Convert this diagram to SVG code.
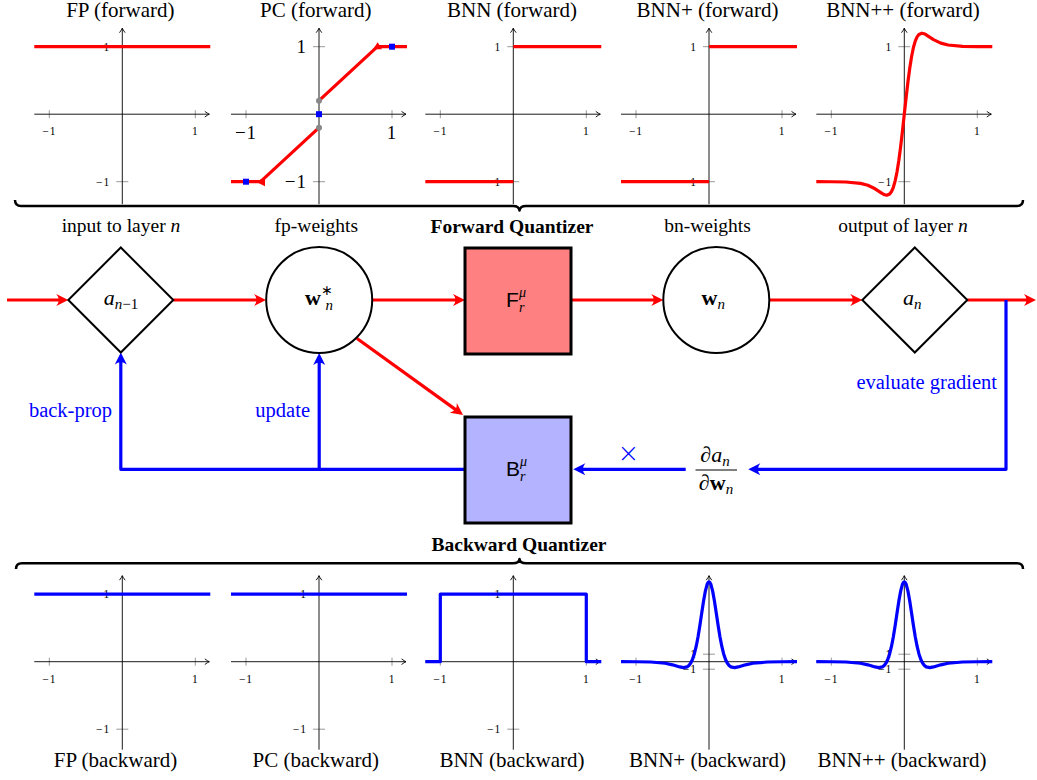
<svg xmlns="http://www.w3.org/2000/svg" width="1037" height="780" viewBox="0 0 1037 780">
<style>
text{font-family:"Liberation Serif","Times New Roman",serif;fill:#000}
.ax{stroke:#000;stroke-width:0.9;fill:none}
.tk{stroke:#999;stroke-width:1}
.lbl{font-size:11.5px;letter-spacing:1px}
.big{font-size:19px;letter-spacing:1px}
.ttl{font-size:21px}
.mid{font-size:19.5px}
.bl{font-size:20.5px;fill:#00f}
.cross{font-family:"DejaVu Sans",sans-serif;font-size:26px;font-weight:200;fill:#00f}
.bold{font-weight:bold;font-size:19.5px}
.rc{stroke:#f00;stroke-width:3.2;fill:none;stroke-linejoin:round}
.bc{stroke:#00f;stroke-width:3.2;fill:none;stroke-linejoin:round}
.node{stroke:#000;stroke-width:2;fill:#fff}
.box{stroke:#000;stroke-width:3}
.it{font-style:italic}
.sans{font-family:"Liberation Sans",Arial,sans-serif}
.brace{stroke:#000;stroke-width:2.5;fill:none;stroke-linejoin:round}
</style>
<defs>
<marker id="axa" markerUnits="userSpaceOnUse" markerWidth="10" markerHeight="10" viewBox="-6 -5 8 10" refX="0" refY="0" orient="auto">
<path d="M-4.5,-2.8 Q-1.5,-0.6 0,0 Q-1.5,0.6 -4.5,2.8" fill="none" stroke="#000" stroke-width="0.9"/>
</marker>
<marker id="ar" markerUnits="userSpaceOnUse" markerWidth="16" markerHeight="16" viewBox="-14 -8 16 16" refX="-4" refY="0" orient="auto">
<path d="M0,0 L-12,-6 Q-7,0 -12,6 Z" fill="#f00"/>
</marker>
<marker id="ab" markerUnits="userSpaceOnUse" markerWidth="16" markerHeight="16" viewBox="-14 -8 16 16" refX="-4" refY="0" orient="auto">
<path d="M0,0 L-12,-6 Q-7,0 -12,6 Z" fill="#00f"/>
</marker>
</defs>

<!-- forward plots -->
<g id="fp-forward" transform="translate(122.3,114.2)">
<line class="tk" x1="-73" y1="-4" x2="-73" y2="4"/><line class="tk" x1="73" y1="-4" x2="73" y2="4"/>
<line class="tk" x1="-6" y1="-67.5" x2="6" y2="-67.5"/><line class="tk" x1="-6" y1="67.5" x2="6" y2="67.5"/>
<line class="ax" x1="-88" y1="0" x2="87" y2="0" marker-end="url(#axa)"/>
<line class="ax" x1="0" y1="90" x2="0" y2="-86" marker-end="url(#axa)"/>
<text class="lbl" x="-73" y="21" text-anchor="middle">−1</text><text class="lbl" x="73" y="21" text-anchor="middle">1</text>
<text class="lbl" x="-12" y="-63.5" text-anchor="end">1</text><text class="lbl" x="-12" y="71.5" text-anchor="end">−1</text>
<path class="rc" d="M-88,-67.5 H88"/>
</g>
<g id="pc-forward" transform="translate(319,114.2)">
<line class="tk" x1="-73" y1="-4" x2="-73" y2="4"/><line class="tk" x1="73" y1="-4" x2="73" y2="4"/>
<line class="tk" x1="-6" y1="-67.5" x2="6" y2="-67.5"/><line class="tk" x1="-6" y1="67.5" x2="6" y2="67.5"/>
<line class="ax" x1="-88" y1="0" x2="87" y2="0" marker-end="url(#axa)"/>
<line class="ax" x1="0" y1="90" x2="0" y2="-86" marker-end="url(#axa)"/>
<text class="big" x="-73" y="25" text-anchor="middle">−1</text><text class="big" x="73" y="25" text-anchor="middle">1</text>
<text class="big" x="-12" y="-61" text-anchor="end">1</text><text class="big" x="-12" y="74" text-anchor="end">−1</text>
<path class="rc" d="M-88,67.5 H-58.4 L0,13.5"/>
<path class="rc" d="M0,-13.5 L58.4,-67.5 H88"/>
<circle cx="0" cy="13.5" r="3" fill="#888"/><circle cx="0" cy="-13.5" r="3" fill="#888"/>
<polygon points="58.7,-72 54,-65 63,-65" fill="#f00"/>
<polygon points="-63,67.5 -54,63 -54,72" fill="#f00"/>
<rect x="-76" y="64.5" width="6" height="6" fill="#00f"/>
<rect x="-3" y="-3" width="6" height="6" fill="#00f"/>
<rect x="70" y="-70.5" width="6" height="6" fill="#00f"/>
</g>
<g id="bnn-forward" transform="translate(513.3,114.2)">
<line class="tk" x1="-73" y1="-4" x2="-73" y2="4"/><line class="tk" x1="73" y1="-4" x2="73" y2="4"/>
<line class="tk" x1="-6" y1="-67.5" x2="6" y2="-67.5"/><line class="tk" x1="-6" y1="67.5" x2="6" y2="67.5"/>
<line class="ax" x1="-88" y1="0" x2="87" y2="0" marker-end="url(#axa)"/>
<line class="ax" x1="0" y1="90" x2="0" y2="-86" marker-end="url(#axa)"/>
<text class="lbl" x="-73" y="21" text-anchor="middle">−1</text><text class="lbl" x="73" y="21" text-anchor="middle">1</text>
<text class="lbl" x="-12" y="-63.5" text-anchor="end">1</text><text class="lbl" x="-12" y="71.5" text-anchor="end">−1</text>
<path class="rc" d="M-88,67.5 H0"/><path class="rc" d="M0,-67.5 H88"/>
</g>
<g id="bnnp-forward" transform="translate(709,114.2)">
<line class="tk" x1="-73" y1="-4" x2="-73" y2="4"/><line class="tk" x1="73" y1="-4" x2="73" y2="4"/>
<line class="tk" x1="-6" y1="-67.5" x2="6" y2="-67.5"/><line class="tk" x1="-6" y1="67.5" x2="6" y2="67.5"/>
<line class="ax" x1="-88" y1="0" x2="87" y2="0" marker-end="url(#axa)"/>
<line class="ax" x1="0" y1="90" x2="0" y2="-86" marker-end="url(#axa)"/>
<text class="lbl" x="-73" y="21" text-anchor="middle">−1</text><text class="lbl" x="73" y="21" text-anchor="middle">1</text>
<text class="lbl" x="-12" y="-63.5" text-anchor="end">1</text><text class="lbl" x="-12" y="71.5" text-anchor="end">−1</text>
<path class="rc" d="M-88,67.5 H0"/><path class="rc" d="M0,-67.5 H88"/>
</g>
<g id="bnnpp-forward" transform="translate(904.3,114.2)">
<line class="tk" x1="-73" y1="-4" x2="-73" y2="4"/><line class="tk" x1="73" y1="-4" x2="73" y2="4"/>
<line class="tk" x1="-6" y1="-67.5" x2="6" y2="-67.5"/><line class="tk" x1="-6" y1="67.5" x2="6" y2="67.5"/>
<line class="ax" x1="-88" y1="0" x2="87" y2="0" marker-end="url(#axa)"/>
<line class="ax" x1="0" y1="90" x2="0" y2="-86" marker-end="url(#axa)"/>
<text class="lbl" x="-73" y="21" text-anchor="middle">−1</text><text class="lbl" x="73" y="21" text-anchor="middle">1</text>
<text class="lbl" x="-12" y="-63.5" text-anchor="end">1</text><text class="lbl" x="-12" y="71.5" text-anchor="end">−1</text>
<path class="rc" d="M-88,67.5 L-73,67.56 L-58.4,67.82 L-43.8,69.17 L-36.5,71.08 L-29.2,74.61 L-21.9,79.4 L-19.71,80.51 L-17.52,80.99 L-14.6,79.76 L-12.78,77.31 L-10.95,73.08 L-9.13,66.65 L-7.3,57.75 L-5.48,46.25 L-3.65,32.4 L-1.83,16.71 L0,0 L1.83,-16.71 L3.65,-32.4 L5.48,-46.25 L7.3,-57.75 L9.13,-66.65 L10.95,-73.08 L12.78,-77.31 L14.6,-79.76 L17.52,-80.99 L19.71,-80.51 L21.9,-79.4 L29.2,-74.61 L36.5,-71.08 L43.8,-69.17 L58.4,-67.82 L73,-67.56 L88,-67.5"/>
</g>

<!-- backward plots -->
<g id="fp-backward" transform="translate(122.3,661.7)">
<line class="tk" x1="-73" y1="-4" x2="-73" y2="4"/><line class="tk" x1="73" y1="-4" x2="73" y2="4"/>
<line class="tk" x1="-6" y1="-67.5" x2="6" y2="-67.5"/><line class="tk" x1="-6" y1="67.5" x2="6" y2="67.5"/>
<line class="ax" x1="-88" y1="0" x2="87" y2="0" marker-end="url(#axa)"/>
<line class="ax" x1="0" y1="88" x2="0" y2="-86" marker-end="url(#axa)"/>
<text class="lbl" x="-73" y="21" text-anchor="middle">−1</text><text class="lbl" x="73" y="21" text-anchor="middle">1</text>
<text class="lbl" x="-12" y="-63.5" text-anchor="end">1</text><text class="lbl" x="-12" y="71.5" text-anchor="end">−1</text>
<path class="bc" d="M-88,-67.5 H88"/>
</g>
<g id="pc-backward" transform="translate(319,661.7)">
<line class="tk" x1="-73" y1="-4" x2="-73" y2="4"/><line class="tk" x1="73" y1="-4" x2="73" y2="4"/>
<line class="tk" x1="-6" y1="-67.5" x2="6" y2="-67.5"/><line class="tk" x1="-6" y1="67.5" x2="6" y2="67.5"/>
<line class="ax" x1="-88" y1="0" x2="87" y2="0" marker-end="url(#axa)"/>
<line class="ax" x1="0" y1="88" x2="0" y2="-86" marker-end="url(#axa)"/>
<text class="lbl" x="-73" y="21" text-anchor="middle">−1</text><text class="lbl" x="73" y="21" text-anchor="middle">1</text>
<text class="lbl" x="-12" y="-63.5" text-anchor="end">1</text><text class="lbl" x="-12" y="71.5" text-anchor="end">−1</text>
<path class="bc" d="M-88,-67.5 H88"/>
</g>
<g id="bnn-backward" transform="translate(513.3,661.7)">
<line class="tk" x1="-73" y1="-4" x2="-73" y2="4"/><line class="tk" x1="73" y1="-4" x2="73" y2="4"/>
<line class="tk" x1="-6" y1="-67.5" x2="6" y2="-67.5"/><line class="tk" x1="-6" y1="67.5" x2="6" y2="67.5"/>
<line class="ax" x1="-88" y1="0" x2="87" y2="0" marker-end="url(#axa)"/>
<line class="ax" x1="0" y1="88" x2="0" y2="-86" marker-end="url(#axa)"/>
<text class="lbl" x="-73" y="21" text-anchor="middle">−1</text><text class="lbl" x="73" y="21" text-anchor="middle">1</text>
<text class="lbl" x="-12" y="-63.5" text-anchor="end">1</text><text class="lbl" x="-12" y="71.5" text-anchor="end">−1</text>
<path class="bc" d="M-88,0 H-73 V-67.5 H73 V0 H88"/>
</g>
<g id="bnnp-backward" transform="translate(709,661.7)">
<line class="tk" x1="-73" y1="-4" x2="-73" y2="4"/><line class="tk" x1="73" y1="-4" x2="73" y2="4"/>
<line class="tk" x1="-6" y1="-7.5" x2="6" y2="-7.5"/><line class="tk" x1="-6" y1="7.5" x2="6" y2="7.5"/>
<line class="ax" x1="-88" y1="0" x2="87" y2="0" marker-end="url(#axa)"/>
<line class="ax" x1="0" y1="88" x2="0" y2="-86" marker-end="url(#axa)"/>
<text class="lbl" x="-73" y="21" text-anchor="middle">−1</text><text class="lbl" x="73" y="21" text-anchor="middle">1</text>
<text class="lbl" x="-12" y="-4" text-anchor="end">1</text><text class="lbl" x="-12" y="11" text-anchor="end">−1</text>
<path class="bc" d="M-88,0 L-73,0.07 L-58.4,0.32 L-43.8,1.57 L-36.5,3.12 L-29.2,5.25 L-25.55,5.9 L-21.9,5.17 L-20.08,3.79 L-18.25,1.35 L-16.43,-2.46 L-14.6,-8 L-12.78,-15.5 L-10.95,-25 L-9.13,-36.2 L-7.3,-48.4 L-5.48,-60.4 L-3.65,-70.6 L-1.83,-77.5 Q0,-82 1.83,-77.5 L3.65,-70.6 L5.48,-60.4 L7.3,-48.4 L9.13,-36.2 L10.95,-25 L12.78,-15.5 L14.6,-8 L16.43,-2.46 L18.25,1.35 L20.08,3.79 L21.9,5.17 L25.55,5.9 L29.2,5.25 L36.5,3.12 L43.8,1.57 L58.4,0.32 L73,0.07 L88,0"/>
</g>
<g id="bnnpp-backward" transform="translate(904.3,661.7)">
<line class="tk" x1="-73" y1="-4" x2="-73" y2="4"/><line class="tk" x1="73" y1="-4" x2="73" y2="4"/>
<line class="tk" x1="-6" y1="-7.5" x2="6" y2="-7.5"/><line class="tk" x1="-6" y1="7.5" x2="6" y2="7.5"/>
<line class="ax" x1="-88" y1="0" x2="87" y2="0" marker-end="url(#axa)"/>
<line class="ax" x1="0" y1="88" x2="0" y2="-86" marker-end="url(#axa)"/>
<text class="lbl" x="-73" y="21" text-anchor="middle">−1</text><text class="lbl" x="73" y="21" text-anchor="middle">1</text>
<text class="lbl" x="-12" y="-4" text-anchor="end">1</text><text class="lbl" x="-12" y="11" text-anchor="end">−1</text>
<path class="bc" d="M-88,0 L-73,0.07 L-58.4,0.32 L-43.8,1.57 L-36.5,3.12 L-29.2,5.25 L-25.55,5.9 L-21.9,5.17 L-20.08,3.79 L-18.25,1.35 L-16.43,-2.46 L-14.6,-8 L-12.78,-15.5 L-10.95,-25 L-9.13,-36.2 L-7.3,-48.4 L-5.48,-60.4 L-3.65,-70.6 L-1.83,-77.5 Q0,-82 1.83,-77.5 L3.65,-70.6 L5.48,-60.4 L7.3,-48.4 L9.13,-36.2 L10.95,-25 L12.78,-15.5 L14.6,-8 L16.43,-2.46 L18.25,1.35 L20.08,3.79 L21.9,5.17 L25.55,5.9 L29.2,5.25 L36.5,3.12 L43.8,1.57 L58.4,0.32 L73,0.07 L88,0"/>
</g>

<!-- plot titles -->
<g id="titles">
<text class="ttl" x="120.3" y="17" text-anchor="middle">FP (forward)</text>
<text class="ttl" x="315.8" y="17" text-anchor="middle">PC (forward)</text>
<text class="ttl" x="512" y="17" text-anchor="middle">BNN (forward)</text>
<text class="ttl" x="707.5" y="17" text-anchor="middle">BNN+ (forward)</text>
<text class="ttl" x="903" y="17" text-anchor="middle">BNN++ (forward)</text>
<text class="ttl" x="115.5" y="767" text-anchor="middle">FP (backward)</text>
<text class="ttl" x="315.8" y="767" text-anchor="middle">PC (backward)</text>
<text class="ttl" x="512" y="767" text-anchor="middle">BNN (backward)</text>
<text class="ttl" x="707.5" y="767" text-anchor="middle">BNN+ (backward)</text>
<text class="ttl" x="902" y="767" text-anchor="middle">BNN++ (backward)</text>
</g>

<!-- braces -->
<g id="braces">
<path class="brace" d="M15,200 Q15,206 21,206 L513,206 Q519,206 519.5,210.5 Q520,206 526,206 L1017,206 Q1023,206 1023,200"/>
<text class="bold" x="512" y="233" text-anchor="middle">Forward Quantizer</text>
<path class="brace" d="M16,569 Q16,563.3 22,563.3 L513,563.3 Q519,563.3 519.5,559 Q520,563.3 526,563.3 L1017,563.3 Q1023,563.3 1023,569"/>
<text class="bold" x="519" y="551" text-anchor="middle">Backward Quantizer</text>
</g>

<!-- connectors -->
<g id="connectors">
<line class="rc" x1="7" y1="300" x2="64.3" y2="300" marker-end="url(#ar)"/>
<line class="rc" x1="173.3" y1="300" x2="262" y2="300" marker-end="url(#ar)"/>
<line class="rc" x1="372.2" y1="300" x2="461" y2="300" marker-end="url(#ar)"/>
<line class="rc" x1="571" y1="300" x2="659.3" y2="300" marker-end="url(#ar)"/>
<line class="rc" x1="769.3" y1="300" x2="858.3" y2="300" marker-end="url(#ar)"/>
<line class="rc" x1="967.3" y1="300" x2="1032" y2="300" marker-end="url(#ar)"/>
<line class="rc" x1="357" y1="338.5" x2="459.8" y2="412.6" marker-end="url(#ar)"/>
<path class="bc" d="M1006,300 V469.3 H752.3" marker-end="url(#ab)"/>
<path class="bc" d="M685.7,469.3 H577.3" marker-end="url(#ab)"/>
<path class="bc" d="M464,469.3 H120.8 V356.5" marker-end="url(#ab)"/>
<path class="bc" d="M319.2,469.3 V357" marker-end="url(#ab)"/>
<text class="bl" x="997" y="389" text-anchor="end">evaluate gradient</text>
<text class="bl" x="112" y="417" text-anchor="end">back-prop</text>
<text class="bl" x="310" y="417" text-anchor="end">update</text>
<text class="cross" x="628.3" y="462" text-anchor="middle">×</text>
<g id="fraction">
<text x="715" y="462" font-size="22" text-anchor="middle">∂<tspan class="it">a</tspan><tspan class="it" font-size="15" dy="4">n</tspan></text>
<line x1="695.5" y1="470" x2="737" y2="470" stroke="#000" stroke-width="1"/>
<text x="716" y="490" font-size="22" text-anchor="middle">∂<tspan font-weight="bold">w</tspan><tspan class="it" font-size="15" dy="4">n</tspan></text>
</g>
</g>

<!-- nodes -->
<g id="node-input">
<text class="mid" x="121" y="232" text-anchor="middle">input to layer <tspan class="it">n</tspan></text>
<polygon class="node" points="120.8,247.5 173.3,300 120.8,352.5 68.3,300"/>
<text x="121" y="305" font-size="22" text-anchor="middle"><tspan class="it">a</tspan><tspan class="it" font-size="15" dy="4">n</tspan><tspan font-size="15">−1</tspan></text>
</g>
<g id="node-fpweights">
<text class="mid" x="316.3" y="232" text-anchor="middle">fp-weights</text>
<circle class="node" cx="319.2" cy="300" r="53"/>
<text x="305" y="305" font-size="22"><tspan font-weight="bold">w</tspan><tspan font-size="14" dy="-10">∗</tspan><tspan class="it" font-size="15" dx="-7.5" dy="15">n</tspan></text>
</g>
<g id="node-forward-quantizer">
<rect class="box" x="465" y="248" width="106" height="106" fill="#ff8080"/>
<text class="sans" x="506" y="307" font-size="21">F</text>
<text class="it" x="519" y="297" font-size="14">μ</text>
<text class="it" x="519" y="312" font-size="14">r</text>
</g>
<g id="node-bnweights">
<text class="mid" x="707.5" y="232" text-anchor="middle">bn-weights</text>
<circle class="node" cx="716.3" cy="300" r="53"/>
<text x="701.5" y="305" font-size="22"><tspan font-weight="bold">w</tspan><tspan class="it" font-size="15" dy="4">n</tspan></text>
</g>
<g id="node-output">
<text class="mid" x="903" y="232" text-anchor="middle">output of layer <tspan class="it">n</tspan></text>
<polygon class="node" points="914.8,247.5 967.3,300 914.8,352.5 862.3,300"/>
<text x="903" y="305" font-size="22"><tspan class="it">a</tspan><tspan class="it" font-size="15" dy="4">n</tspan></text>
</g>
<g id="node-backward-quantizer">
<rect class="box" x="465" y="417" width="106" height="106" fill="#b3b3ff"/>
<text class="sans" x="506" y="476" font-size="21">B</text>
<text class="it" x="520" y="466" font-size="14">μ</text>
<text class="it" x="520" y="481" font-size="14">r</text>
</g>
</svg>
